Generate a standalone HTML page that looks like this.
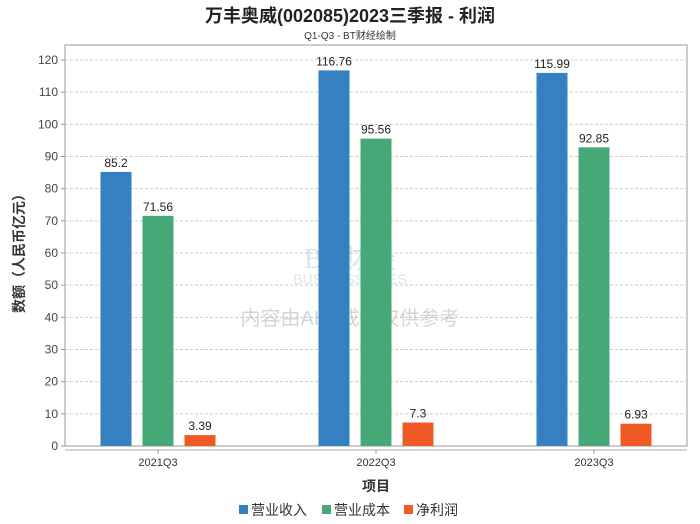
<!DOCTYPE html>
<html><head><meta charset="utf-8"><style>
body{margin:0;background:#fff;}
svg{display:block;font-family:"Liberation Sans","Noto Sans CJK SC",sans-serif;}
</style></head><body>
<svg id="chart" width="700" height="524" viewBox="0 0 700 524">
<text x="350" y="22" text-anchor="middle" font-size="18" font-weight="bold" fill="#222">万丰奥威(002085)2023三季报 - 利润</text>
<text x="350" y="39" text-anchor="middle" font-size="10" fill="#333">Q1-Q3 - BT财经绘制</text>
<rect x="65" y="45" width="622" height="401" fill="#fff" stroke="#999"/>
<g id="grid"></g>
<g id="watermark" opacity="0.3">
<text x="350" y="268" text-anchor="middle" font-size="28" font-family="Liberation Serif,serif" fill="#8aa" >BT财经</text>
<text x="350" y="284" text-anchor="middle" font-size="14" fill="#8aa">BUSINESSTIMES</text>
<text x="350" y="325" text-anchor="middle" font-size="20" fill="#777">内容由AI生成，仅供参考</text>
</g>
<g id="bars"></g>
<line x1="65" y1="450" x2="687" y2="450" stroke="#aaa"/>
<g id="xlabels"></g>
<text x="376" y="491" text-anchor="middle" font-size="14" font-weight="bold" fill="#333">项目</text>
<text transform="translate(24,250) rotate(-90)" text-anchor="middle" font-size="14" font-weight="bold" fill="#333">数额（人民币亿元）</text>
<g>
<rect x="239" y="505" width="9" height="9" fill="#3580c0"/>
<text x="251" y="515" font-size="14" fill="#333">营业收入</text>
<rect x="322" y="505" width="9" height="9" fill="#45a876"/>
<text x="334" y="515" font-size="14" fill="#333">营业成本</text>
<rect x="404" y="505" width="9" height="9" fill="#f05a24"/>
<text x="416" y="515" font-size="14" fill="#333">净利润</text>
</g>
</svg>
<script>
const categories=["2021Q3","2022Q3","2023Q3"];
const revenue=[85.2,116.76,115.99];
const cost=[71.56,95.56,92.85];
const profit=[3.39,7.3,6.93];
const yTicks=[0,10,20,30,40,50,60,70,80,90,100,110,120];
const seriesNames=["revenue","cost","profit"];
const colors=["#3580c0","#45a876","#f05a24"];
const NS="http://www.w3.org/2000/svg";
const left=65,right=687,bottom=446,ppu=(446-60)/120;
const y=v=>bottom-v*ppu;
const gw=218;
const cx=i=>158+gw*i;
function mk(t,a,p){const e=document.createElementNS(NS,t);for(const k in a)e.setAttribute(k,a[k]);p.appendChild(e);return e;}
const grid=document.getElementById('grid');
yTicks.forEach(t=>{
  if(t>0){const l=mk('line',{x1:left,x2:right,y1:y(t),y2:y(t),stroke:'#ccc','stroke-dasharray':'3,2'},grid);
  
  }
  const tk=mk('line',{x1:left-4,x2:left,y1:y(t),y2:y(t),stroke:'#999'},grid);
  
  
  const tx=mk('text',{x:left-7,y:y(t)+4,'text-anchor':'end','font-size':12,fill:'#444'},grid);
  tx.textContent=t;
  
  
});
const bars=document.getElementById('bars');
const xl=document.getElementById('xlabels');
[revenue,cost,profit].forEach((s,si)=>{
  s.forEach((v,i)=>{
    const bx=cx(i)+(si-1)*42-15.5;
    const r=mk('rect',{x:bx,y:y(v),width:31,height:bottom-y(v),fill:colors[si]},bars);
    
    
    const t=mk('text',{x:bx+15.5,y:y(v)-5,'text-anchor':'middle','font-size':12,fill:'#222'},bars);
    t.textContent=v;
    
    
  });
});
categories.forEach((c,i)=>{
  const tk=mk('line',{x1:cx(i),x2:cx(i),y1:450,y2:454,stroke:'#999'},xl);
  
  
  const t=mk('text',{x:cx(i),y:466,'text-anchor':'middle','font-size':11,fill:'#333'},xl);
  t.textContent=c;
  
  
});
</script>
</body></html>
